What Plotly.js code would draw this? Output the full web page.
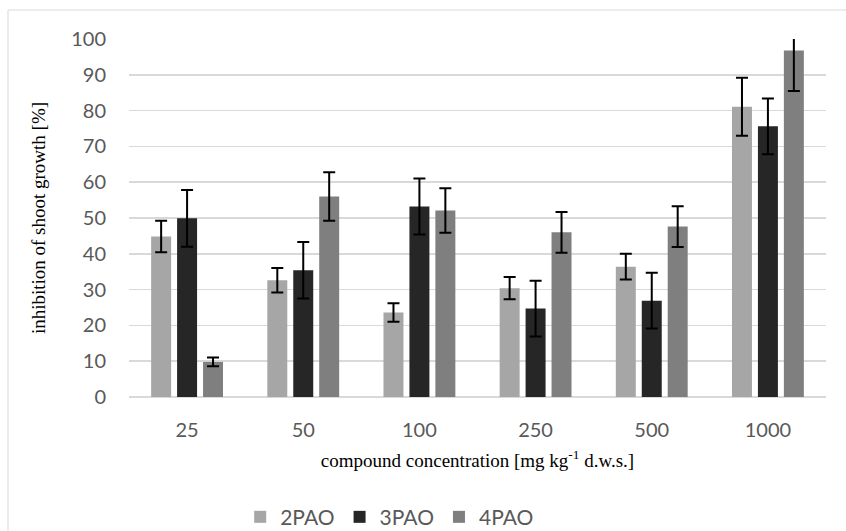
<!DOCTYPE html>
<html>
<head>
<meta charset="utf-8">
<script src="https://cdn.plot.ly/plotly-3.0.1.min.js"></script>
<style>
html,body{margin:0;padding:0;background:#fff;}
#chart{width:846px;height:531px;}
</style>
</head>
<body>
<div id="chart"></div>
<script>
const categories = ["25", "50", "100", "250", "500", "1000"];
const seriesNames = ["2PAO", "3PAO", "4PAO"];
const pao2 = [44.8, 32.6, 23.6, 30.4, 36.4, 81.1];
const pao2Err = [4.4, 3.4, 2.6, 3.1, 3.6, 8.1];
const pao3 = [49.9, 35.4, 53.2, 24.7, 26.9, 75.6];
const pao3Err = [7.9, 7.9, 7.8, 7.8, 7.8, 7.8];
const pao4 = [9.8, 56.0, 52.1, 46.0, 47.6, 96.8];
const pao4Err = [1.2, 6.8, 6.2, 5.7, 5.7, 11.3];
const yTicks = [0, 10, 20, 30, 40, 50, 60, 70, 80, 90, 100];

const colors = ["#a6a6a6", "#262626", "#7f7f7f"];
const values = [pao2, pao3, pao4];
const errs = [pao2Err, pao3Err, pao4Err];

const traces = seriesNames.map((name, i) => ({
  type: "bar",
  name: name,
  x: categories,
  y: values[i],
  marker: {color: colors[i], line: {width: 0}},
  error_y: {type: "data", array: errs[i], visible: true, color: "#000000", thickness: 2, width: 6},
  hoverinfo: "x+y+name"
}));

const tickFont = {family: "Lato, 'Open Sans', sans-serif", size: 20, color: "#595959"};
const legendFont = {family: "Lato, 'Open Sans', sans-serif", size: 21, color: "#595959"};
const titleFont = {family: "'Liberation Serif', 'Times New Roman', serif", size: 19, color: "#000000"};

const layout = {
  width: 846,
  height: 531,
  margin: {l: 129, r: 20, t: 39, b: 134, autoexpand: false},
  paper_bgcolor: "#ffffff",
  plot_bgcolor: "#ffffff",
  barmode: "group",
  bargap: 0.33,
  bargroupgap: 0.23,
  showlegend: true,
  legend: {
    orientation: "h",
    xref: "paper",
    x: 0.374, xanchor: "center",
    yref: "container",
    y: 0.026, yanchor: "middle",
    font: legendFont,
    itemwidth: 30,
    traceorder: "normal"
  },
  xaxis: {
    type: "category",
    categoryorder: "array",
    categoryarray: categories,
    tickfont: tickFont,
    showgrid: false,
    showline: false,
    zeroline: false,
    ticks: "",
    ticklabelstandoff: 19,
    title: {text: "compound concentration [mg kg<sup>-1</sup> d.w.s.]", font: titleFont, standoff: 13}
  },
  yaxis: {
    range: [0, 100],
    tickvals: yTicks,
    ticktext: yTicks.map(String),
    tickfont: tickFont,
    showgrid: true,
    gridcolor: "#d9d9d9",
    gridwidth: 1.5,
    zeroline: true,
    zerolinecolor: "#d9d9d9",
    zerolinewidth: 1.5,
    showline: false,
    ticks: "",
    ticklabelstandoff: 22,
    title: {text: "inhibition of shoot growth [%]", font: titleFont, standoff: 20}
  },
  shapes: [{
    type: "rect", xref: "paper", yref: "paper",
    x0: -0.1736, x1: 1.2, y0: -0.6, y1: 1.081,
    line: {color: "#d9d9d9", width: 1}, fillcolor: "rgba(0,0,0,0)", layer: "below"
  }]
};

Plotly.newPlot("chart", traces, layout, {displayModeBar: false, staticPlot: true});
</script>
</body>
</html>
